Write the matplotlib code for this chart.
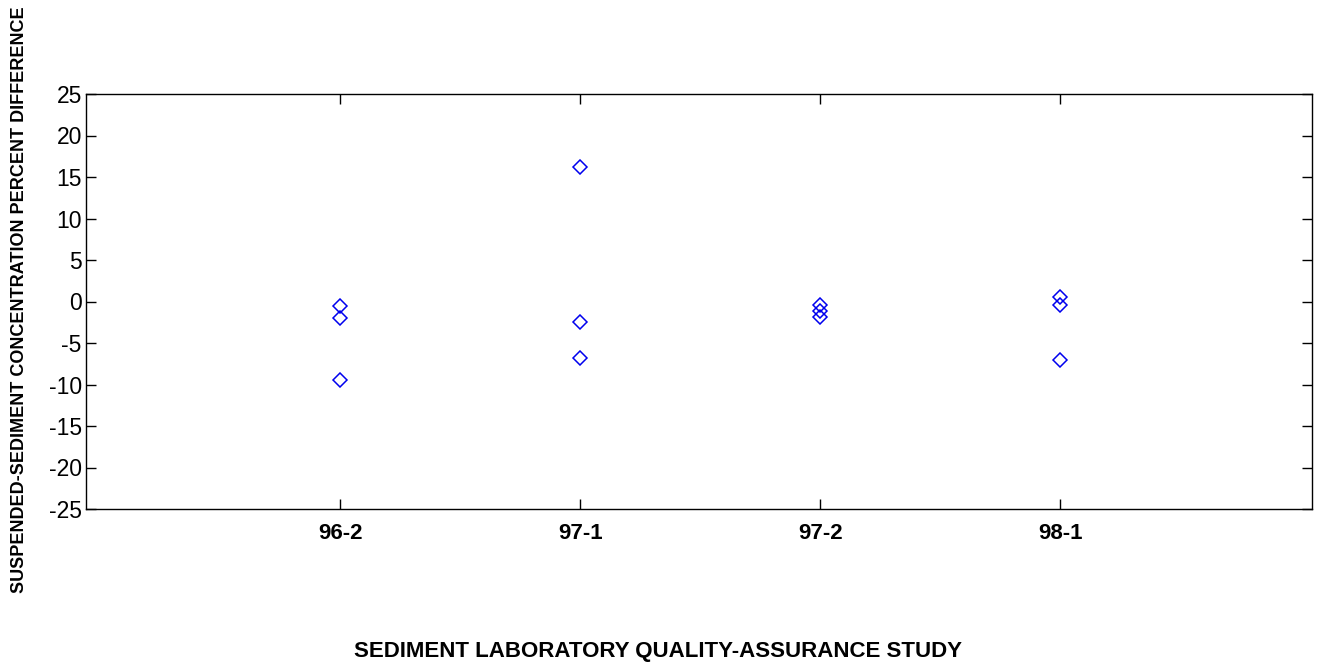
import matplotlib
matplotlib.use("Agg")
import matplotlib.pyplot as plt

# quality-assurance studies and percent differences
studies = ["96-2", "97-1", "97-2", "98-1"]
diff_96_2 = [-0.6, -2.0, -9.5]
diff_97_1 = [16.2, -2.5, -6.8]
diff_97_2 = [-0.4, -1.2, -1.9]
diff_98_1 = [0.5, -0.4, -7.0]
y_ticks = list(range(-25, 30, 5))

plt.rcParams['font.family'] = ['Liberation Sans', 'DejaVu Sans']

fig = plt.figure(figsize=(13.2, 6.7), dpi=100)
ax = fig.add_axes([86 / 1320, 1 - 509 / 670, (1312 - 86) / 1320, (509 - 94) / 670])

for i, vals in enumerate([diff_96_2, diff_97_1, diff_97_2, diff_98_1]):
    ax.plot([i + 1] * len(vals), vals, linestyle='none', marker='D', ms=7.2,
            mfc='none', mec='#0000ee', mew=1.1)

ax.set_xlim(-0.06, 5.05)
ax.set_ylim(-25, 25)
ax.set_xticks(range(1, len(studies) + 1))
ax.set_xticklabels(studies, fontweight='bold', fontsize=16)
ax.set_yticks(y_ticks)
ax.set_yticklabels([str(t) for t in y_ticks], fontsize=16.5)
ax.tick_params(direction='in', length=7, width=1, top=True, right=True)
ax.tick_params(axis='x', pad=10)
ax.tick_params(axis='y', pad=3)
for s in ax.spines.values():
    s.set_linewidth(1)

fig.text(658 / 1320, 1 - 651 / 670, "SEDIMENT LABORATORY QUALITY-ASSURANCE STUDY",
         ha='center', va='center', fontweight='bold', fontsize=16)
fig.text(20 / 1320, 1 - 300 / 670, "SUSPENDED-SEDIMENT CONCENTRATION PERCENT DIFFERENCE",
         ha='center', va='center', rotation=90, fontweight='bold', fontsize=13,
         family=['Liberation Sans Narrow', 'Liberation Sans', 'DejaVu Sans'])

fig.savefig("out.png", dpi=100)
